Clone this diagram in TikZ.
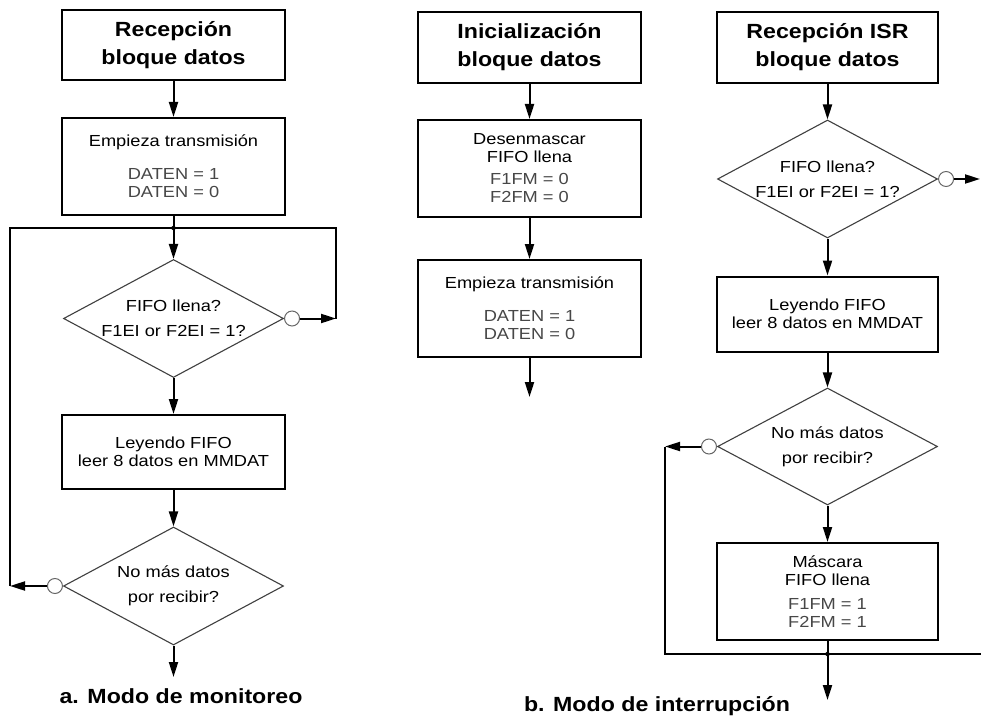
\documentclass[tikz,border=0pt]{standalone}
\usepackage{fontspec}
\setmainfont{Liberation Sans}
\newfontfamily\bodyfont[FakeStretch=1.14]{Liberation Sans}
\newfontfamily\headfont[FakeStretch=1.13]{Liberation Sans Bold}
\usetikzlibrary{shapes.geometric,arrows.meta}
\newcommand\regval[1]{\textcolor{black!72}{#1}}
\begin{document}
\begin{tikzpicture}[x=1pt,y=-1pt,
  box/.style={draw,line width=2pt,minimum width=223pt,inner sep=0pt,align=center,
    font=\bodyfont\fontsize{16}{18}\selectfont},
  headbox/.style={box,font=\headfont\fontsize{20.5}{28}\selectfont},
  dec/.style={diamond,draw=black!75,line width=1.1pt,aspect=1.86,inner sep=0pt,
    minimum width=220pt,minimum height=118pt,align=center,
    font=\bodyfont\fontsize{16}{25}\selectfont},
  flow/.style={line width=2pt,-{Triangle[length=15pt,width=9pt]}},
  loopline/.style={line width=2pt},
  nocirc/.style={circle,draw=black!60,fill=white,line width=1pt,minimum size=15pt,inner sep=0pt},
  jdot/.style={circle,fill=black,minimum size=4.5pt,inner sep=0pt},
  capt/.style={font=\headfont\fontsize{20.5}{24}\selectfont,anchor=base}
]
\useasboundingbox[fill=white] (0,0) rectangle (981,727);

% ---------- a. Modo de monitoreo ----------
\node[headbox,minimum height=70pt] (a1) at (173.5,45) {Recepción\\bloque datos};
\node[box,minimum height=97pt] (a2) at (173.5,166.5)
  {Empieza transmisión\\[15pt]\regval{DATEN = 1}\\\regval{DATEN = 0}};
\node[dec] (a3) at (173.5,318.5) {FIFO llena?\\F1EI or F2EI = 1?};
\node[box,minimum height=74pt] (a4) at (173.5,452) {Leyendo FIFO\\leer 8 datos en MMDAT};
\node[dec] (a5) at (173.5,586) {No más datos\\por recibir?};
\coordinate (a6) at (173.5,677);
\node[nocirc,anchor=west] (a3n) at (a3.east) {};
\node[nocirc,anchor=east] (a5n) at (a5.west) {};
\coordinate (aR) at (336,228);
\coordinate (aL) at (10,228);
\node[jdot] (aJ) at (173.5,228) {};

\draw[flow] (a1) -- (a2);
\draw[flow] (a2) -- (a3);
\draw[flow] (a3) -- (a4);
\draw[flow] (a4) -- (a5);
\draw[flow] (a5) -- (a6);
\draw[flow] (a3n) -- (a3n -| aR);
\draw[loopline] (a3n -| aR) -- (aR) -- (aL) -- (a5n -| aL);
\draw[flow] (a5n) -- (a5n -| aL);

\node[capt] (capa) at (181,703) {a. Modo de monitoreo};

% ---------- b. Modo de interrupción ----------
\node[headbox,minimum height=71pt] (b1) at (529.5,47.5) {Inicialización\\bloque datos};
\node[box,minimum height=97pt] (b2) at (529.5,168.5)
  {Desenmascar\\FIFO llena\\[4pt]\regval{F1FM = 0}\\\regval{F2FM = 0}};
\node[box,minimum height=97pt] (b3) at (529.5,308.5)
  {Empieza transmisión\\[15pt]\regval{DATEN = 1}\\\regval{DATEN = 0}};
\coordinate (b4) at (529.5,397);
\draw[flow] (b1) -- (b2);
\draw[flow] (b2) -- (b3);
\draw[flow] (b3) -- (b4);

\node[headbox,minimum height=71pt,minimum width=221pt] (c1) at (827.5,47.5) {Recepción ISR\\bloque datos};
\node[dec] (c2) at (827.5,179) {FIFO llena?\\F1EI or F2EI = 1?};
\node[box,minimum height=75pt,minimum width=221pt] (c3) at (827.5,314) {Leyendo FIFO\\leer 8 datos en MMDAT};
\node[dec,minimum height=117pt] (c4) at (827.5,446.5) {No más datos\\por recibir?};
\node[box,minimum height=97pt,minimum width=221pt] (c5) at (827.5,591.5)
  {Máscara\\FIFO llena\\[6pt]\regval{F1FM = 1}\\\regval{F2FM = 1}};
\coordinate (c6) at (827.5,700);
\node[nocirc,anchor=west] (c2n) at (c2.east) {};
\node[nocirc,anchor=east] (c4n) at (c4.west) {};
\coordinate (cR) at (980,654);
\coordinate (cL) at (665,654);
\node[jdot] (cJ) at (827.5,654) {};

\draw[flow] (c1) -- (c2);
\draw[flow] (c2) -- (c3);
\draw[flow] (c3) -- (c4);
\draw[flow] (c4) -- (c5);
\draw[flow] (c5) -- (c6);
\draw[flow] (c2n) -- (c2n -| cR);
\draw[flow] (c4n) -- (c4n -| cL);
\draw[loopline] (c4n -| cL) -- (cL) -- (981,654);

\node[capt] (capb) at (657,711) {b. Modo de interrupción};
\end{tikzpicture}
\end{document}
